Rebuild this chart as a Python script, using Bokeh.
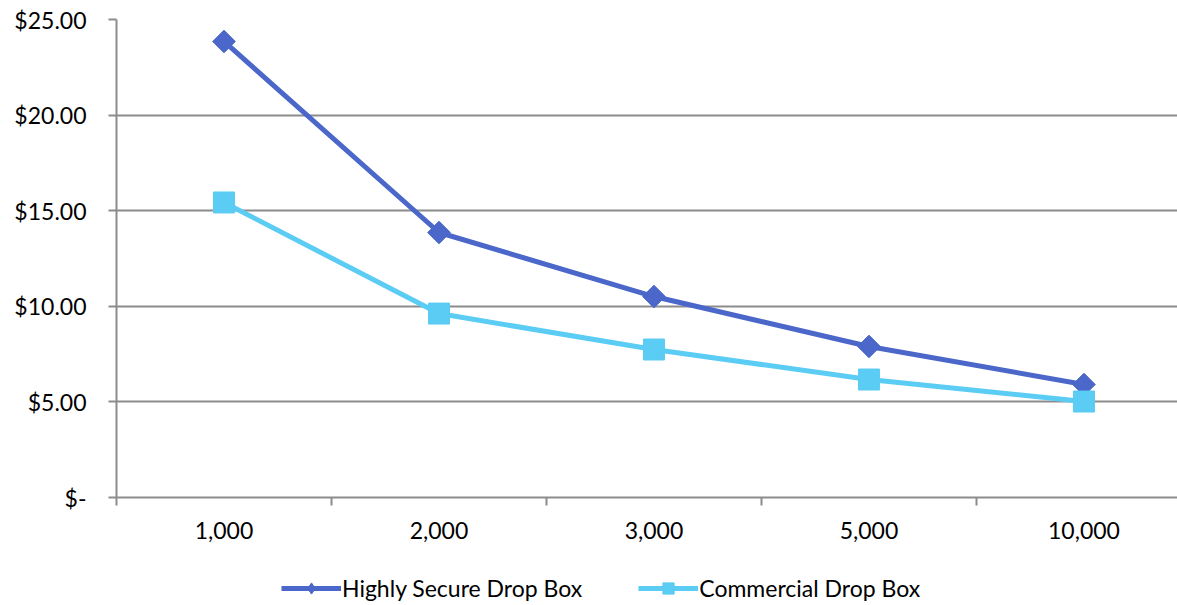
import math
from bokeh.plotting import figure
from bokeh.layouts import column
from bokeh.models import Range1d, FixedTicker, Legend, LegendItem, LinearAxis, Grid
from bokeh.embed import file_html
from bokeh.resources import INLINE

categories = ["1,000", "2,000", "3,000", "5,000", "10,000"]
highly_secure = [23.85, 13.86, 10.51, 7.90, 5.91]
commercial = [15.43, 9.62, 7.74, 6.17, 5.02]
y_ticks = [0, 5, 10, 15, 20, 25]
y_labels = ["$-", "$5.00", "$10.00", "$15.00", "$20.00", "$25.00"]
series_names = ["Highly Secure Drop Box", "Commercial Drop Box"]

DARK = "#4A67C9"
LIGHT = "#5BCCF3"
GRID = "#8C8C8C"
FONT = "Lato"
FS = "23px"

xs = list(range(len(categories)))

p = figure(frame_width=1061, frame_height=478, output_backend="svg", toolbar_location=None,
           x_range=Range1d(-0.5, 4.435), y_range=Range1d(0, 25),
           min_border_left=116, min_border_top=19, min_border_bottom=60, min_border_right=0,
           x_axis_type=None, y_axis_type=None)
p.outline_line_color = None
p.background_fill_color = "white"
p.border_fill_color = "white"

yax = LinearAxis(ticker=FixedTicker(ticks=y_ticks))
yax.major_label_overrides = {t: l for t, l in zip(y_ticks, y_labels)}
yax.major_label_text_font = FONT
yax.major_label_text_font_size = FS
yax.major_label_text_color = "black"
yax.axis_line_color = GRID
yax.axis_line_width = 2
yax.major_tick_line_color = GRID
yax.major_tick_line_width = 2
yax.major_tick_out = 8
yax.major_tick_in = 0
yax.minor_tick_line_color = None
yax.major_label_standoff = 22
p.add_layout(yax, "left")

xax = LinearAxis(ticker=FixedTicker(ticks=xs, minor_ticks=[-0.5, 0.5, 1.5, 2.5, 3.5]))
xax.major_label_overrides = {x: c for x, c in zip(xs, categories)}
xax.major_label_text_font = FONT
xax.major_label_text_font_size = FS
xax.major_label_text_color = "black"
xax.axis_line_color = GRID
xax.axis_line_width = 2
xax.major_tick_line_color = None
xax.minor_tick_line_color = GRID
xax.minor_tick_line_width = 2
xax.minor_tick_out = 8
xax.minor_tick_in = 0
xax.major_label_standoff = 16
p.add_layout(xax, "below")

grid = Grid(dimension=1, ticker=FixedTicker(ticks=y_ticks[1:]), grid_line_color=GRID, grid_line_width=2)
p.add_layout(grid)

p.line(xs, highly_secure, line_color=DARK, line_width=5)
p.scatter(xs, highly_secure, marker="square", angle=math.pi / 4, size=16,
          fill_color=DARK, line_color=DARK)
p.line(xs, commercial, line_color=LIGHT, line_width=5)
p.scatter(xs, commercial, marker="square", size=21, fill_color=LIGHT, line_color=LIGHT)

# legend strip below the chart (series drawn out of view, only their legend glyphs show)
lg = figure(width=1177, height=48, output_backend="svg", toolbar_location=None,
            x_range=Range1d(0, 1), y_range=Range1d(-2, -1),
            min_border=0, x_axis_type=None, y_axis_type=None)
lg.outline_line_color = None
lg.grid.visible = False
l1 = lg.line(xs, highly_secure, line_color=DARK, line_width=5)
m1 = lg.scatter(xs, highly_secure, marker="diamond", size=20, fill_color=DARK, line_color=DARK)
l2 = lg.line(xs, commercial, line_color=LIGHT, line_width=5)
m2 = lg.scatter(xs, commercial, marker="square", size=17, fill_color=LIGHT, line_color=LIGHT)

legend = Legend(items=[LegendItem(label=series_names[0], renderers=[l1, m1]),
                       LegendItem(label=series_names[1], renderers=[l2, m2])],
                orientation="horizontal", location=(165, 3))
legend.label_text_font = FONT
legend.label_text_font_size = FS
legend.label_text_color = "black"
legend.label_text_baseline = "middle"
legend.border_line_color = None
legend.background_fill_alpha = 0
legend.glyph_width = 60
legend.glyph_height = 28
legend.label_height = 28
legend.label_standoff = 1
legend.spacing = 56
legend.margin = 0
legend.padding = 0
lg.add_layout(legend, "center")

layout = column(p, lg, spacing=0)
open("out.html", "w").write(file_html(layout, INLINE))
